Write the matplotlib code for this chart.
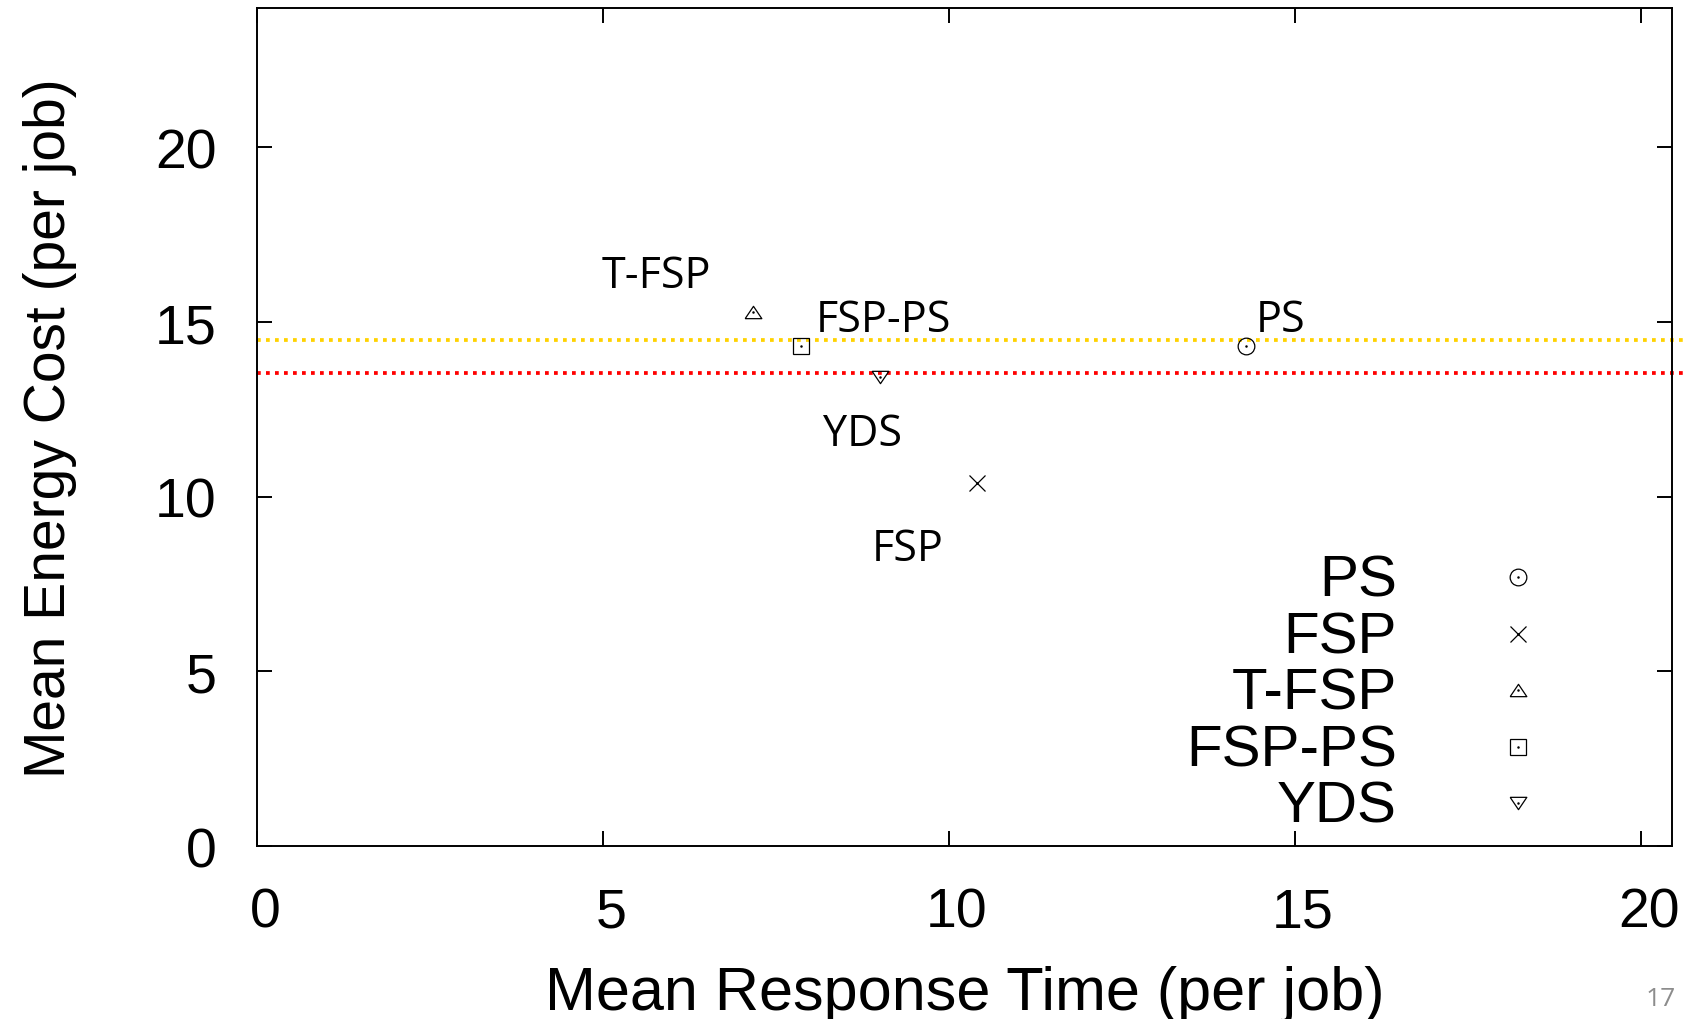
import numpy as np
import matplotlib
matplotlib.use("Agg")
import matplotlib.pyplot as plt
from matplotlib.transforms import ScaledTranslation

# ==========================
# Dados
# ==========================
policies = ["PS", "FSP", "T-FSP", "FSP-PS", "YDS"]
resp_time = [14.29, 10.40, 7.17, 7.86, 9.00]
energy_cost = [14.31, 10.40, 15.28, 14.31, 13.44]

# posição dos rótulos ao lado dos pontos (coordenadas de dados)
label_x = [14.79, 9.41, 5.78, 9.05, 8.75]
label_y = [14.74, 8.20, 16.01, 14.74, 11.47]

# linhas de referência
ref_levels = [14.48, 13.55]
ref_colors = ["#FFD200", "#FF0000"]

x_ticks = [0, 5, 10, 15, 20]
y_ticks = [0, 5, 10, 15, 20]

# ==========================
# Marcadores
# ==========================
tri_up = [(-1, -0.74), (1, -0.74), (0, 0.74), (-1, -0.74)]
tri_down = [(-1, 0.74), (1, 0.74), (0, -0.74), (-1, 0.74)]
markers = {
    "PS": ("o", 12),
    "FSP": ("x", 11.5),
    "T-FSP": (tri_up, 12),
    "FSP-PS": ("s", 11.5),
    "YDS": (tri_down, 12),
}

sans = "Liberation Sans"
calibri_like = "Open Sans"

# ==========================
# Figura
# ==========================
fig = plt.figure(figsize=(16.96, 10.2), dpi=100)
ax = fig.add_axes([0.1515, 0.1696, 0.8343, 0.8219])

ax.set_xlim(0, 20.45)
ax.set_ylim(0, 24)

for level, color in zip(ref_levels, ref_colors):
    ax.plot([0, 20.64], [level, level], color=color, lw=2.7,
            linestyle=(0, (1, 1.4)), clip_on=False, zorder=1)

for name, x, y in zip(policies, resp_time, energy_cost):
    m, ms = markers[name]
    ax.plot([x], [y], linestyle="none", marker=m, markersize=ms,
            markerfacecolor="none", markeredgecolor="black",
            markeredgewidth=0.9, zorder=3)
    ax.plot([x], [y], linestyle="none", marker="o", markersize=0.8,
            color="black", zorder=4)

for name, lx, ly in zip(policies, label_x, label_y):
    ax.text(lx, ly, name, ha="center", va="baseline",
            fontsize=31, family=calibri_like)

# ==========================
# Legenda (estilo gnuplot, texto alinhado à direita)
# ==========================
row_step = 0.0674
for i, name in enumerate(policies):
    m, ms = markers[name]
    my = 0.3205 - i * row_step
    ax.text(0.8057, my - 0.0219, name, transform=ax.transAxes,
            ha="right", va="baseline", fontsize=42, family=sans)
    ax.plot([0.891], [my], transform=ax.transAxes, linestyle="none",
            marker=m, markersize=ms, markerfacecolor="none",
            markeredgecolor="black", markeredgewidth=0.9)
    ax.plot([0.891], [my], transform=ax.transAxes, linestyle="none",
            marker="o", markersize=0.8, color="black")

# ==========================
# Eixos
# ==========================
ax.set_xticks(x_ticks)
ax.set_yticks(y_ticks)
ax.tick_params(direction="in", length=10.8, width=1.4, top=True, right=True,
               labelsize=40, pad=29)
for lab in ax.get_xticklabels() + ax.get_yticklabels():
    lab.set_family(sans)
offset = ScaledTranslation(0.08, 0, fig.dpi_scale_trans)
for lab in ax.get_xticklabels():
    lab.set_transform(lab.get_transform() + offset)

for sp in ax.spines.values():
    sp.set_linewidth(1.4)

ax.set_xlabel("Mean Response Time (per job)", fontsize=44, family=sans)
ax.set_ylabel("Mean Energy Cost (per job)", fontsize=41, family=sans)
ax.xaxis.set_label_coords(0.5, -0.1944)
ax.xaxis.label.set_va("baseline")
ax.yaxis.set_label_coords(-0.127, 0.5)

fig.text(0.988, 0.0137, "17", ha="right", va="baseline", fontsize=19,
         color="#8c8c8c", family=calibri_like)

fig.savefig("out.png", dpi=100)
